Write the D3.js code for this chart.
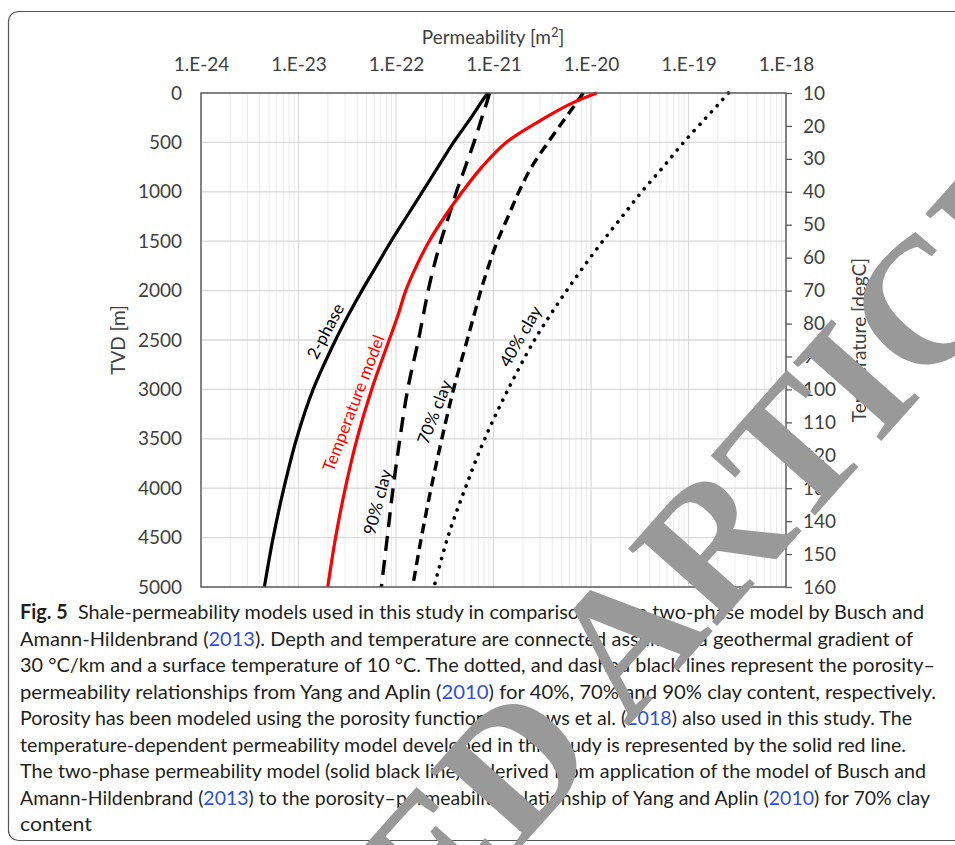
<!DOCTYPE html>
<html>
<head>
<meta charset="utf-8">
<script src="https://cdn.jsdelivr.net/npm/d3@7"></script>
<style>
  body { margin: 0; background: #fff; }
  svg { display: block; }
</style>
</head>
<body>
<svg id="fig" width="955" height="845"></svg>
<script>
// Depth samples (TVD, m) shared by every permeability curve
const depths = [0, 100, 250, 500, 750, 1000, 1250, 1500, 1750, 2000, 2250, 2500, 3000, 3500, 4000, 4500, 5000];

// log10 of permeability [m²] at each depth
const twoPhase  = [-21.06, -21.13, -21.23, -21.41, -21.57, -21.73, -21.89, -22.05, -22.20, -22.35, -22.49, -22.62, -22.85, -23.02, -23.15, -23.26, -23.35];
const tempModel = [-19.94, -20.19, -20.47, -20.87, -21.12, -21.32, -21.50, -21.66, -21.79, -21.90, -21.98, -22.07, -22.25, -22.40, -22.52, -22.62, -22.70];
const clay90    = [-21.04, -21.07, -21.12, -21.20, -21.29, -21.38, -21.46, -21.54, -21.61, -21.67, -21.72, -21.77, -21.88, -21.96, -22.03, -22.09, -22.15];
const clay70    = [-20.08, -20.15, -20.26, -20.44, -20.61, -20.74, -20.85, -20.96, -21.05, -21.13, -21.20, -21.27, -21.41, -21.53, -21.64, -21.74, -21.83];
const clay40    = [-18.59, -18.68, -18.82, -19.05, -19.26, -19.48, -19.68, -19.88, -20.07, -20.25, -20.42, -20.58, -20.85, -21.09, -21.29, -21.47, -21.61];

// Axis ticks
const permExponents  = [-24, -23, -22, -21, -20, -19, -18];
const permTickLabels = ["1.E-24", "1.E-23", "1.E-22", "1.E-21", "1.E-20", "1.E-19", "1.E-18"];
const depthTicks = [0, 500, 1000, 1500, 2000, 2500, 3000, 3500, 4000, 4500, 5000];
const tempTicks  = [10, 20, 30, 40, 50, 60, 70, 80, 90, 100, 110, 120, 130, 140, 150, 160];

// Caption, one array entry per printed line
const captionLines = [
  [{t: "Fig. 5", b: true}, {t: "  Shale-permeability models used in this study in comparison to the two-phase model by Busch and"}],
  [{t: "Amann-Hildenbrand ("}, {t: "2013", a: true}, {t: "). Depth and temperature are connected assuming a geothermal gradient of"}],
  [{t: "30 °C/km and a surface temperature of 10 °C. The dotted, and dashed black lines represent the porosity–"}],
  [{t: "permeability relationships from Yang and Aplin ("}, {t: "2010", a: true}, {t: ") for 40%, 70% and 90% clay content, respectively."}],
  [{t: "Porosity has been modeled using the porosity function of Drews et al. ("}, {t: "2018", a: true}, {t: ") also used in this study. The"}],
  [{t: "temperature-dependent permeability model developed in this study is represented by the solid red line."}],
  [{t: "The two-phase permeability model (solid black line) is derived from application of the model of Busch and"}],
  [{t: "Amann-Hildenbrand ("}, {t: "2013", a: true}, {t: ") to the porosity–permeability relationship of Yang and Aplin ("}, {t: "2010", a: true}, {t: ") for 70% clay"}],
  [{t: "content"}]
];
const captionLineEnds = [924, 913, 935, 936, 912, 906, 926, 930, 92];

const svg = d3.select("#fig");
const W = 955, H = 845;
svg.append("rect").attr("width", W).attr("height", H).attr("fill", "#fff");

// Figure frame with rounded left corners
svg.append("rect")
  .attr("x", 8.5).attr("y", 11.5).attr("width", 1000).attr("height", 829)
  .attr("rx", 10).attr("fill", "none").attr("stroke", "#555").attr("stroke-width", 1.2);

const plot = {left: 201, right: 786, top: 93, bottom: 587};
const x = d3.scaleLog().domain([1e-24, 1e-18]).range([plot.left, plot.right]);
const y = d3.scaleLinear().domain([0, 5000]).range([plot.top, plot.bottom]);
const yT = d3.scaleLinear().domain([10, 160]).range([plot.top, plot.bottom]);

const chartFont = "Lato, 'Open Sans', sans-serif";
const labelColor = "#404040";
const g = svg.append("g");

// Minor and major vertical grid lines (log scale)
const minorVals = [];
permExponents.slice(0, -1).forEach(e => {
  for (let m = 2; m <= 9; m++) minorVals.push(m * Math.pow(10, e));
});
g.append("g").selectAll("line").data(minorVals).join("line")
  .attr("x1", d => x(d)).attr("x2", d => x(d))
  .attr("y1", plot.top).attr("y2", plot.bottom)
  .attr("stroke", "#ebebeb").attr("stroke-width", 1);
g.append("g").selectAll("line").data(permExponents.map(e => Math.pow(10, e))).join("line")
  .attr("x1", d => x(d)).attr("x2", d => x(d))
  .attr("y1", plot.top).attr("y2", plot.bottom)
  .attr("stroke", "#d9d9d9").attr("stroke-width", 1.2);
// Horizontal grid lines
g.append("g").selectAll("line").data(depthTicks).join("line")
  .attr("x1", plot.left).attr("x2", plot.right)
  .attr("y1", d => y(d)).attr("y2", d => y(d))
  .attr("stroke", "#d9d9d9").attr("stroke-width", 1.3);

// Curves
const line = vals => d3.line()
  .x((d, i) => x(Math.pow(10, vals[i])))
  .y(d => y(d))
  .curve(d3.curveCatmullRom.alpha(0.5))(depths);

const curves = [
  {vals: twoPhase,  color: "#000", width: 3.2, dash: null},
  {vals: clay90,    color: "#000", width: 3.4, dash: "15 9", cap: "butt"},
  {vals: clay70,    color: "#000", width: 3.4, dash: "10 6", cap: "butt"},
  {vals: clay40,    color: "#000", width: 3.6, dash: "0.1 8.4", cap: "round"},
  {vals: tempModel, color: "#ff0000", width: 3.2, dash: null}
];
const clipId = "plotclip";
svg.append("clipPath").attr("id", clipId).append("rect")
  .attr("x", plot.left).attr("y", plot.top - 2)
  .attr("width", plot.right - plot.left).attr("height", plot.bottom - plot.top + 2);
g.append("g").attr("clip-path", `url(#${clipId})`)
  .selectAll("path").data(curves).join("path")
  .attr("d", c => line(c.vals))
  .attr("fill", "none")
  .attr("stroke", c => c.color)
  .attr("stroke-width", c => c.width)
  .attr("stroke-dasharray", c => c.dash)
  .attr("stroke-linecap", c => c.cap || "butt")
  .attr("stroke-linejoin", "round");

// Plot frame
g.append("rect")
  .attr("x", plot.left).attr("y", plot.top)
  .attr("width", plot.right - plot.left).attr("height", plot.bottom - plot.top)
  .attr("fill", "none").attr("stroke", "#595959").attr("stroke-width", 1.4);

// Top axis: permeability
const topAxis = d3.axisTop(x)
  .tickValues(permExponents.map(e => Math.pow(10, e)))
  .tickFormat((d, i) => permTickLabels[i])
  .tickSize(0).tickPadding(22);
g.append("g").attr("transform", `translate(0,${plot.top})`).call(topAxis)
  .call(a => a.select(".domain").remove())
  .selectAll("text").attr("font-family", chartFont).attr("font-size", 19).attr("fill", labelColor);

// Left axis: depth
const leftAxis = d3.axisLeft(y).tickValues(depthTicks).tickFormat(d3.format("d")).tickSize(0).tickPadding(19);
g.append("g").attr("transform", `translate(${plot.left},0)`).call(leftAxis)
  .call(a => a.select(".domain").remove())
  .selectAll("text").attr("font-family", chartFont).attr("font-size", 19).attr("fill", labelColor);

// Right axis: temperature
const rightAxis = d3.axisRight(yT).tickValues(tempTicks).tickSize(6).tickPadding(11);
const ra = g.append("g").attr("transform", `translate(${plot.right},0)`).call(rightAxis);
ra.select(".domain").remove();
ra.selectAll("line").attr("stroke", "#595959").attr("stroke-width", 1.3);
ra.selectAll("text").attr("font-family", chartFont).attr("font-size", 19).attr("fill", labelColor);

// Axis titles
g.append("text").attr("x", 493).attr("y", 44).attr("text-anchor", "middle")
  .attr("font-family", chartFont).attr("font-size", 19).attr("fill", labelColor)
  .html('Permeability [m<tspan dy="-7" font-size="13">2</tspan><tspan dy="7">]</tspan>');
g.append("text").attr("transform", "translate(125,340) rotate(-90)").attr("text-anchor", "middle")
  .attr("font-family", chartFont).attr("font-size", 19).attr("fill", labelColor).text("TVD [m]");
g.append("text").attr("transform", "translate(866,340) rotate(-90)").attr("text-anchor", "middle")
  .attr("font-family", chartFont).attr("font-size", 19).attr("fill", labelColor).text("Temperature [degC]");

// Curve labels
const curveLabels = [
  {t: "2-phase", x: 325, y: 331, r: -62, c: "#000"},
  {t: "Temperature model", x: 353, y: 403, r: -69, c: "#ff0000"},
  {t: "90% clay", x: 377, y: 502, r: -75, c: "#000"},
  {t: "70% clay", x: 434, y: 412, r: -69, c: "#000"},
  {t: "40% clay", x: 520, y: 336, r: -60, c: "#000"}
];
g.append("g").selectAll("text").data(curveLabels).join("text")
  .attr("transform", d => `translate(${d.x},${d.y}) rotate(${d.r})`)
  .attr("text-anchor", "middle").attr("dominant-baseline", "central")
  .attr("font-family", chartFont).attr("font-size", 17).attr("fill", d => d.c)
  .text(d => d.t);

// Caption
const cap = svg.append("g").attr("font-family", "Lato, 'Noto Sans', sans-serif")
  .attr("font-size", 20).attr("fill", "#231f20");
captionLines.forEach((segs, i) => {
  const t = cap.append("text").attr("x", 20).attr("y", 619 + i * 26.5)
    .attr("textLength", captionLineEnds[i] - 20).attr("lengthAdjust", "spacingAndGlyphs")
    .attr("xml:space", "preserve").style("white-space", "pre");
  segs.forEach(s => {
    t.append("tspan").text(s.t)
      .attr("font-weight", s.b ? 700 : null)
      .attr("fill", s.a ? "#2d4fd8" : null);
  });
});

// Diagonal notice stamp across the figure
svg.append("text")
  .attr("transform", "translate(-153,1606) rotate(-48.4)")
  .attr("font-family", "'Liberation Serif', 'DejaVu Serif', serif")
  .attr("font-weight", 700).attr("font-size", 180)
  .attr("textLength", 1995).attr("lengthAdjust", "spacing")
  .attr("fill", "#999999")
  .text("RETRACTED ARTICLE");
</script>
</body>
</html>
